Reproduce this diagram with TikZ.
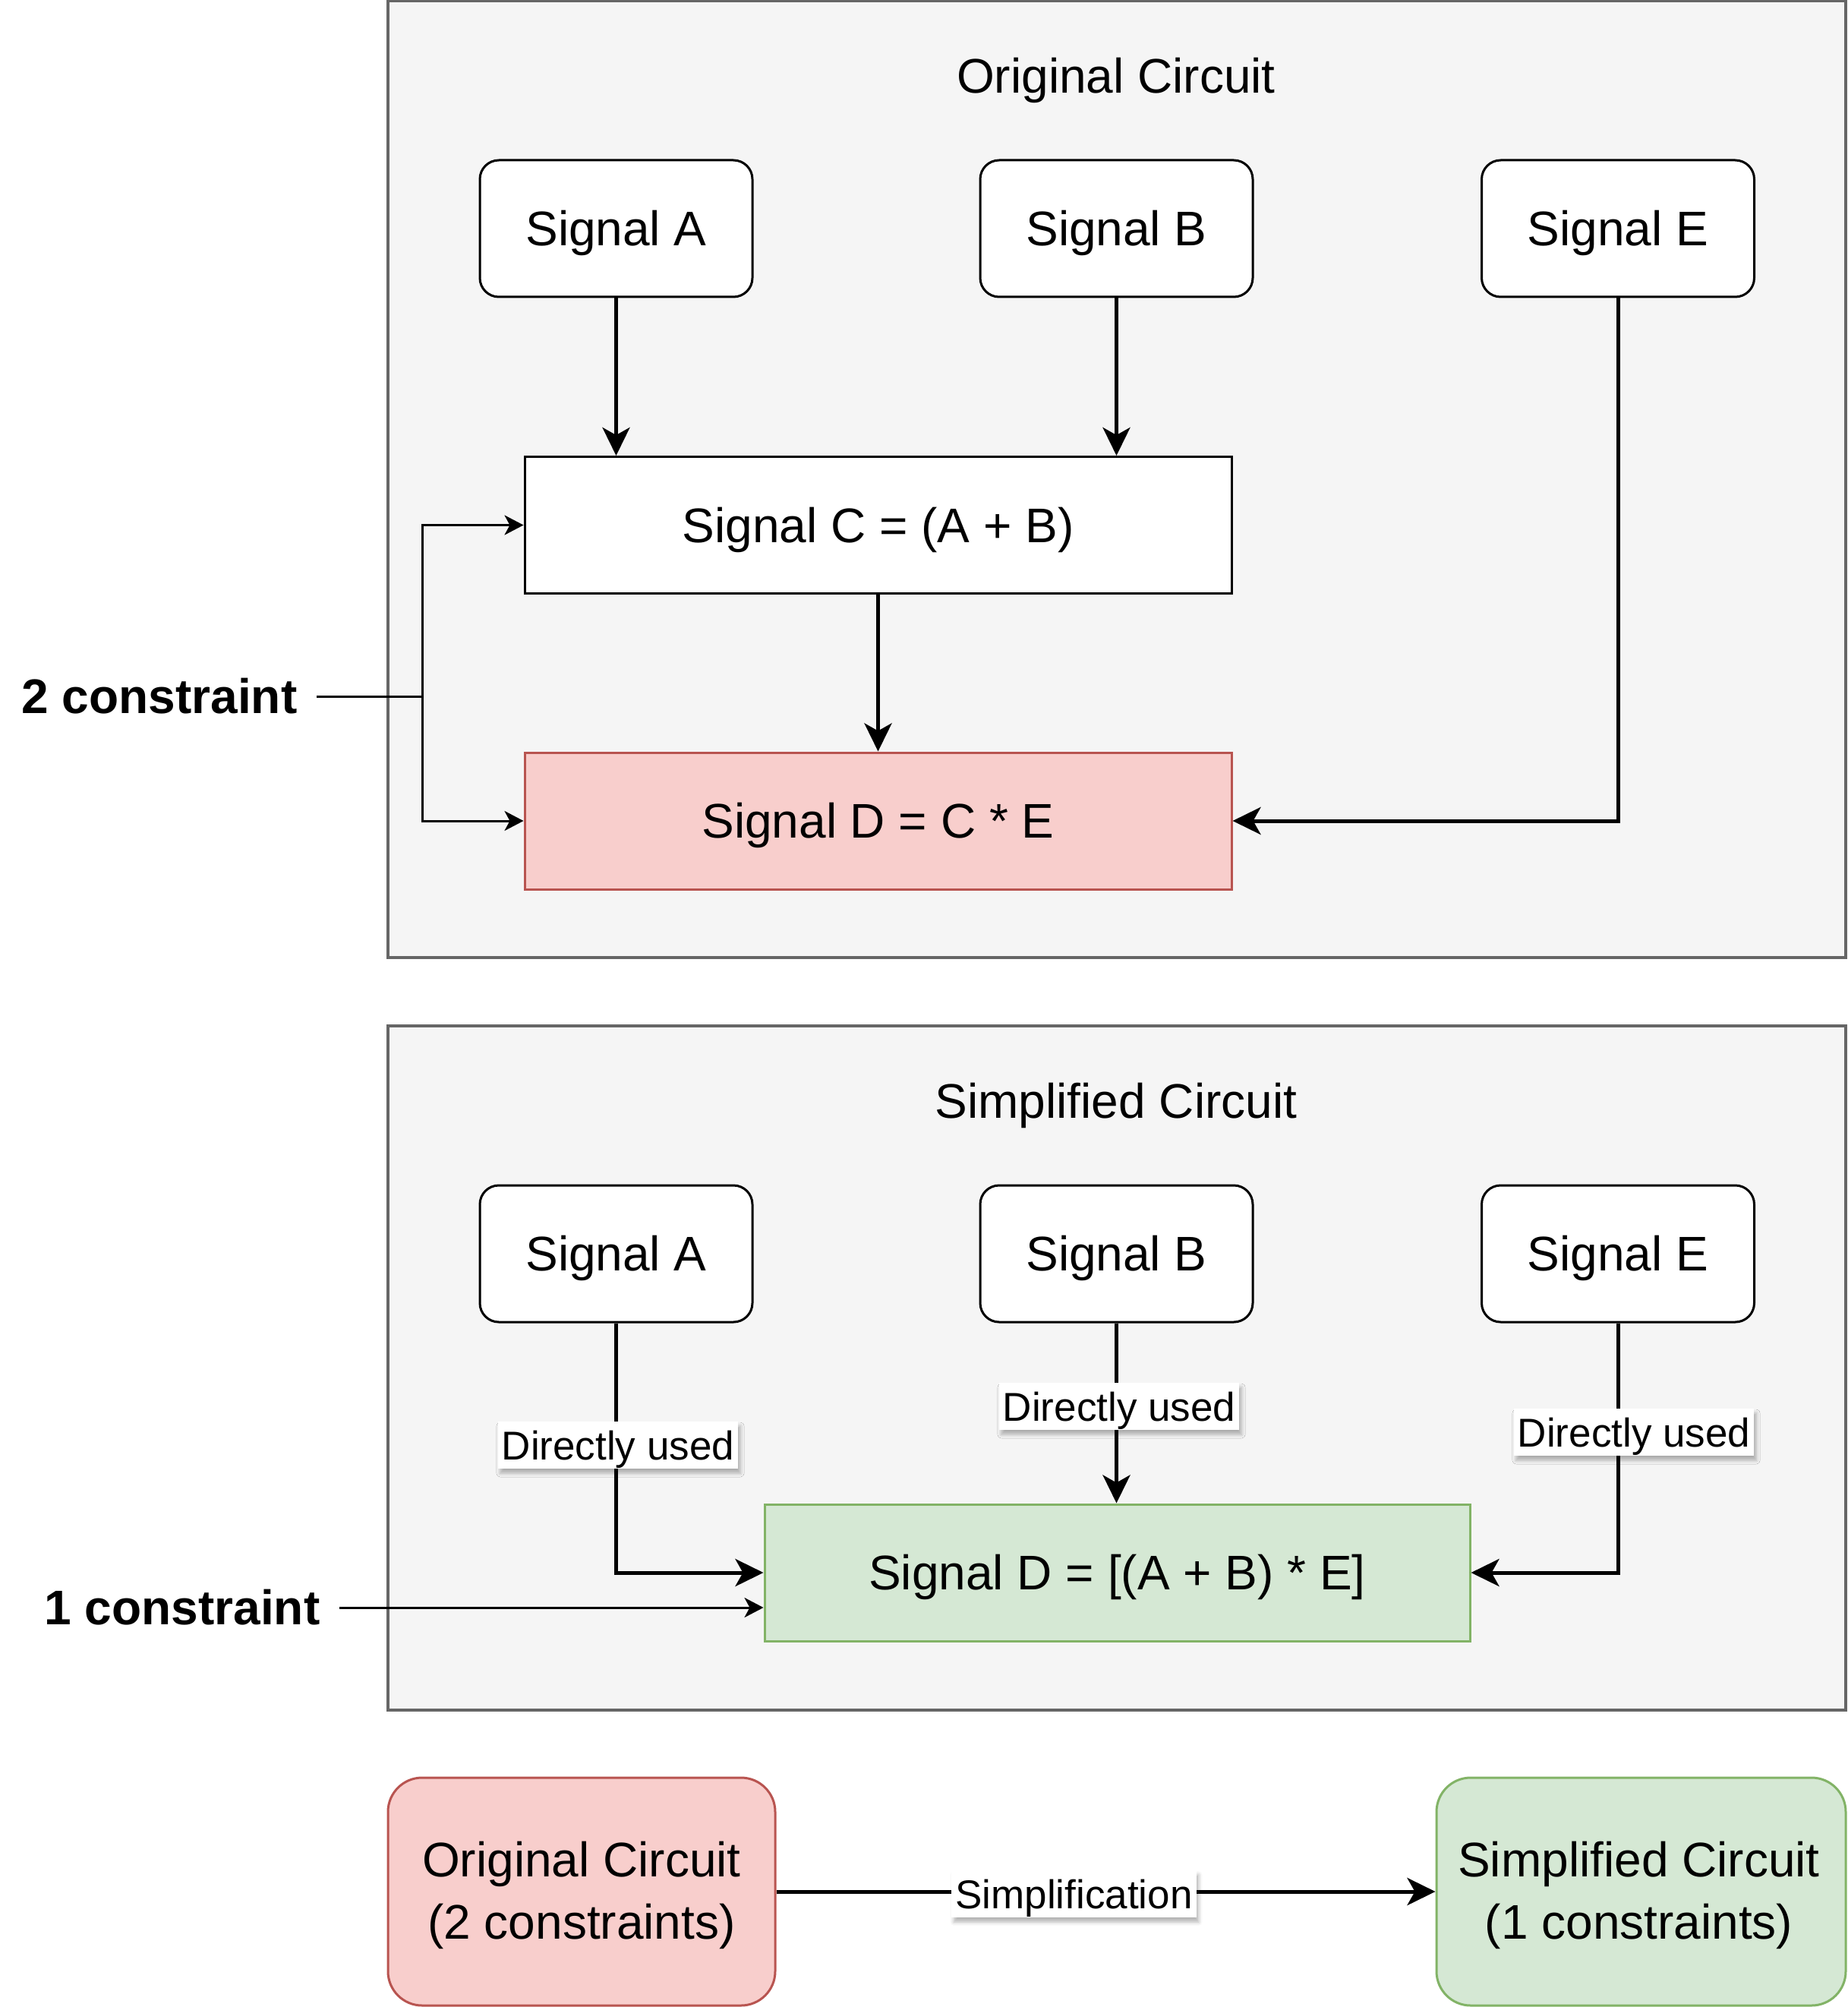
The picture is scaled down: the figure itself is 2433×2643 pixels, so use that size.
\documentclass[tikz,border=0pt]{standalone}
\usepackage{fontspec}
\setmainfont{Liberation Sans}
\usetikzlibrary{arrows.meta,shadows.blur}
\definecolor{outerfill}{HTML}{F5F5F5}
\definecolor{outerstroke}{HTML}{666666}
\definecolor{redfill}{HTML}{F8CECC}
\definecolor{redstroke}{HTML}{B85450}
\definecolor{greenfill}{HTML}{D5E8D4}
\definecolor{greenstroke}{HTML}{82B366}
\begin{document}
\begin{tikzpicture}[x=0.5pt,y=-0.5pt,
  outerbox/.style={draw=outerstroke, fill=outerfill, line width=1.6pt, inner sep=0pt},
  bigfont/.style={font=\fontsize{32}{41}\selectfont},
  sig/.style={bigfont, draw, fill=white, line width=1.5pt, rounded corners=12.5pt,
    minimum width=179.5pt, minimum height=90pt, inner sep=0pt, text height=22.9pt, text depth=0pt},
  calc/.style={bigfont, draw, line width=1.5pt, minimum width=465.5pt, minimum height=90pt,
    inner sep=0pt, text height=22.9pt, text depth=0pt},
  ttl/.style={bigfont, inner sep=0pt, text height=22.9pt, text depth=0pt},
  cons/.style={bigfont, font=\fontsize{32}{41}\selectfont\bfseries, inner xsep=12.5pt, inner ysep=0pt,
    text height=22.9pt, text depth=0pt},
  lbl/.style={font=\fontsize{26.5}{30}\selectfont, fill=white, inner xsep=2.5pt, inner ysep=0pt,
    minimum height=31pt, text height=19pt, text depth=0pt,
    blur shadow={shadow xshift=1.5pt, shadow yshift=-3pt, shadow blur radius=2.5pt, shadow opacity=30}},
  summ/.style={bigfont, draw, line width=1.5pt, rounded corners=22.5pt, minimum height=150pt,
    inner sep=0pt, align=center},
  mainarrow/.style={line width=2.5pt, -{Stealth[length=18.5pt, width=18pt, inset=5pt]}},
  thinarrow/.style={line width=1.5pt, -{Stealth[length=12.5pt, width=13pt, inset=3.5pt]}},
  thinline/.style={line width=1.5pt}
]
\useasboundingbox (0,0) rectangle (2433,2643);

% ---------- Original circuit ----------
\node[outerbox, minimum width=960pt, minimum height=630pt] (box1) at (1471,631) {};
\node[ttl] (t1) at (1470,100) {Original Circuit};
\node[sig] (a1) at (811.5,301) {Signal A};
\node[sig] (b1) at (1470.5,301) {Signal B};
\node[sig] (e1) at (2131,301) {Signal E};
\node[calc, fill=white] (c1) at (1156.5,691.5) {Signal C = (A + B)};
\node[calc, fill=redfill, draw=redstroke] (d1) at (1156.5,1081) {Signal D = C * E};

\draw[mainarrow] (a1.south) -- (a1.south |- c1.north);
\draw[mainarrow] (b1.south) -- (b1.south |- c1.north);
\draw[mainarrow] (c1.south) -- (d1.north);
\draw[mainarrow] (e1.south) |- (d1.east);

\node[cons] (k2) at (210,917) {2 constraint};
\coordinate (br) at (556,917);
\draw[thinline] (k2.east) -- (br);
\draw[thinarrow] (br) |- (c1.west);
\draw[thinarrow] (br) |- (d1.west);

% ---------- Simplified circuit ----------
\node[outerbox, minimum width=960pt, minimum height=450.5pt] (box2) at (1471,1801.5) {};
\node[ttl] (t2) at (1470,1450) {Simplified Circuit};
\node[sig] (a2) at (811.5,1651) {Signal A};
\node[sig] (b2) at (1470.5,1651) {Signal B};
\node[sig] (e2) at (2131,1651) {Signal E};
\node[calc, fill=greenfill, draw=greenstroke, minimum width=464.5pt] (g2) at (1471.5,2071) {Signal D = [(A + B) * E]};

\draw[mainarrow] (a2.south) |- (g2.west);
\draw[mainarrow] (b2.south) -- (b2.south |- g2.north);
\draw[mainarrow] (e2.south) |- (g2.east);
\node[lbl] (la) at (814,1903) {Directly used};
\node[lbl] (lb) at (1474,1852) {Directly used};
\node[lbl] (le) at (2152,1886) {Directly used};

\node[cons] (k1) at (240,2117) {1 constraint};
\draw[thinarrow] (k1.east) -- (k1.east -| g2.west);

% ---------- Summary ----------
\node[summ, fill=redfill, draw=redstroke, minimum width=255pt] (ro) at (766,2491) {};
\node[bigfont, align=center, inner sep=0pt, yshift=-2.5pt] (rot) at (ro.center) {Original Circuit\\(2 constraints)};
\node[summ, fill=greenfill, draw=greenstroke, minimum width=269.5pt] (gs) at (2161.5,2491) {};
\node[bigfont, align=center, inner sep=0pt, yshift=-2.5pt, xshift=-1.5pt] (gst) at (gs.center) {Simplified Circuit\\(1 constraints)};
\draw[mainarrow] (ro.east) -- (gs.west);
\node[lbl] (ls) at (1414.5,2494) {Simplification};
\end{tikzpicture}
\end{document}
